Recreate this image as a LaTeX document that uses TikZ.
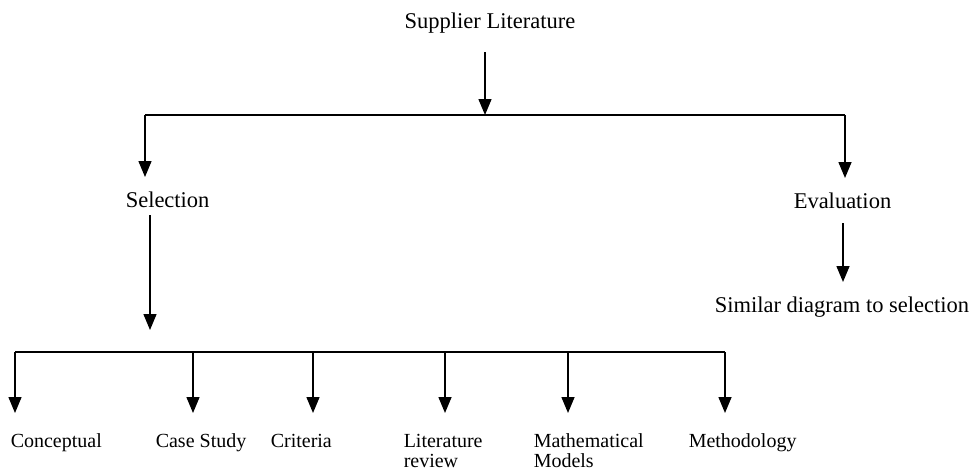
\documentclass[tikz,border=0pt]{standalone}
\usepackage{fontspec}
\setmainfont{Liberation Serif}
\usetikzlibrary{arrows.meta}
\begin{document}
\begin{tikzpicture}[x=1pt,y=-1pt, line width=1.5pt,
  arr/.style={-{Triangle[width=13pt,length=16pt]}},
  big/.style={font=\fontsize{22.5}{26}\selectfont, inner sep=0pt},
  small/.style={font=\fontsize{20}{20}\selectfont, inner sep=0pt, align=left}]
\useasboundingbox (0,0) rectangle (975,471);
% texts
\node[big,anchor=base] (sup) at (490,28) {Supplier Literature};
\node[big,anchor=base west] (sel) at (125,207) {Selection};
\node[big,anchor=base west] (eva) at (793,208) {Evaluation};
\node[big,anchor=base west] (sim) at (714,312) {Similar diagram to selection};
\node[small,anchor=base west] (con) at (10,447) {Conceptual};
\node[small,anchor=base west] (cas) at (155,447) {Case Study};
\node[small,anchor=base west] (cri) at (270,447) {Criteria};
\node[small,anchor=base west] (lit) at (403,467) {Literature\\review};
\node[small,anchor=base west] (mat) at (533,467) {Mathematical\\Models};
\node[small,anchor=base west] (met) at (688,447) {Methodology};
% junction coordinates
\coordinate (supS) at (485,52);
\coordinate (j1) at (485,115);
\coordinate (jL) at (145,115);
\coordinate (jR) at (845,115);
\coordinate (selT) at (145,177);
\coordinate (evaT) at (845,178);
\coordinate (evaS) at (843,223);
\coordinate (simT) at (843,282);
\coordinate (selS) at (150,215);
\coordinate (j2) at (150,330);
\coordinate (b0) at (15,352);
\coordinate (b1) at (193,352);
\coordinate (b2) at (313,352);
\coordinate (b3) at (445,352);
\coordinate (b4) at (568,352);
\coordinate (b5) at (725,352);
\coordinate (t0) at (15,413);
\coordinate (t1) at (193,413);
\coordinate (t2) at (313,413);
\coordinate (t3) at (445,413);
\coordinate (t4) at (568,413);
\coordinate (t5) at (725,413);
% connectors
\draw[arr] (supS) -- (j1);
\draw (jL) -- (jR);
\draw[arr] (jL) -- (selT);
\draw[arr] (jR) -- (evaT);
\draw[arr] (evaS) -- (simT);
\draw[arr] (selS) -- (j2);
\draw (b0) -- (b5);
\foreach \i in {0,...,5} {\draw[arr] (b\i) -- (t\i);}
\end{tikzpicture}
\end{document}
